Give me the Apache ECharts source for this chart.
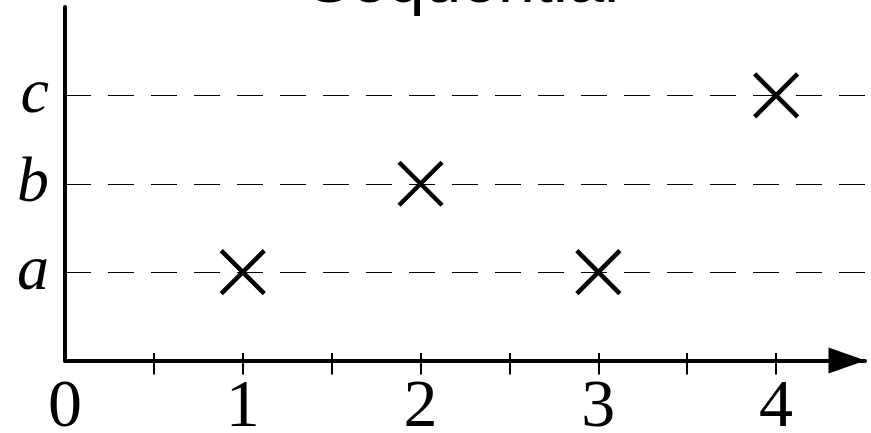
<!DOCTYPE html>
<html>
<head>
<meta charset="utf-8">
<script src="https://cdn.jsdelivr.net/npm/echarts@6/dist/echarts.min.js"></script>
<style>
  html, body { margin: 0; padding: 0; background: #fff; }
  #chart { width: 871px; height: 433px; }
</style>
</head>
<body>
<div id="chart"></div>
<script>
// 数据
var yCategories = ['a', 'b', 'c']
var xValues = [1, 2, 3, 4]
var yValues = [1, 2, 1, 3]   // 1 = a, 2 = b, 3 = c
var xTickValues = [0.5, 1, 1.5, 2, 2.5, 3, 3.5, 4]
var xLabelValues = [0, 1, 2, 3, 4]

var points = xValues.map(function (x, i) {
  return [x, yValues[i]]
})

var serif = '"Liberation Serif", "DejaVu Serif", serif'

var chart = echarts.init(document.getElementById('chart'), null, { renderer: 'canvas' })

var option = {
  animation: false,
  backgroundColor: '#fff',
  graphic: [{
    type: 'text',
    x: 463,
    y: -16,
    style: {
      text: 'Sequential',
      font: '66px "Liberation Sans", Arial, sans-serif',
      fill: '#000',
      align: 'center',
      verticalAlign: 'middle'
    }
  }],
  grid: {
    left: 65,
    right: 6,
    top: 7,
    bottom: 72.5,
    containLabel: false,
    outerBoundsMode: 'none'
  },
  xAxis: [{
    type: 'value',
    min: 0,
    max: 4.5,
    interval: 0.5,
    axisLine: {
      show: true,
      symbol: ['none', 'triangle'],
      symbolSize: [26, 37],
      symbolOffset: [0, -18],
      lineStyle: { color: '#000', width: 4 }
    },
    axisTick: {
      show: true,
      inside: false,
      length: 14,
      customValues: xTickValues,
      lineStyle: { color: '#000', width: 2 }
    },
    axisLabel: {
      show: true,
      customValues: xLabelValues,
      margin: 14,
      color: '#000',
      fontFamily: serif,
      fontSize: 68,
      formatter: function (v) { return String(v) }
    },
    splitLine: { show: false }
  }, {
    type: 'value',
    min: 0,
    max: 4.5,
    interval: 0.5,
    position: 'bottom',
    axisLine: { show: false },
    axisTick: {
      show: true,
      inside: true,
      length: 7.5,
      customValues: xTickValues,
      lineStyle: { color: '#000', width: 2 }
    },
    axisLabel: { show: false },
    splitLine: { show: false }
  }],
  yAxis: {
    type: 'value',
    min: 0,
    max: 4,
    interval: 1,
    axisLine: {
      show: true,
      lineStyle: { color: '#000', width: 4 }
    },
    axisTick: { show: false },
    axisLabel: {
      margin: 16,
      color: '#000',
      fontFamily: serif,
      fontStyle: 'italic',
      fontSize: 64,
      formatter: function (v) {
        return yCategories[v - 1] || ''
      }
    },
    splitLine: {
      show: true,
      showMinLine: false,
      showMaxLine: false,
      lineStyle: {
        color: '#000',
        width: 1.2,
        type: [26, 17]
      }
    }
  },
  series: [{
    type: 'scatter',
    xAxisIndex: 0,
    data: points,
    symbol: 'path://M0,0L10,10M10,0L0,10',
    symbolSize: 43,
    itemStyle: {
      color: 'none',
      borderColor: '#000',
      borderWidth: 4.5,
      opacity: 1
    },
    z: 5
  }]
}

chart.setOption(option)
</script>
</body>
</html>
